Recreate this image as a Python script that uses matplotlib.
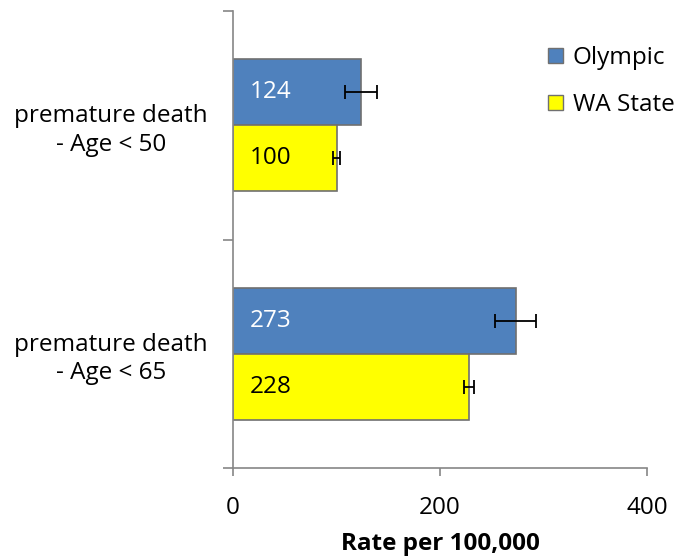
import matplotlib
matplotlib.use("Agg")
import matplotlib.pyplot as plt
import numpy as np
from matplotlib.patches import Patch

categories = ["premature death\n- Age < 50", "premature death\n- Age < 65"]
series_names = ["Olympic", "WA State"]
olympic = [124, 273]
wa_state = [100, 228]
olympic_err = [15.5, 19.5]
wa_err = [3, 4.5]
xticks = [0, 200, 400]
xlabel = "Rate per 100,000"

plt.rcParams['font.family'] = ['Open Sans', 'DejaVu Sans']
FS = 17.5

fig = plt.figure(figsize=(6.8, 5.59), dpi=100)
ax = fig.add_axes([233/680, 1-468/559, (647-233)/680, (468-11)/559])

y = np.arange(len(categories))
h = 0.289
edge = '#707070'
ekw = dict(ecolor='black', capsize=4.7, elinewidth=1.3, capthick=1.3)
ax.barh(y - h/2, olympic, height=h, color='#4F81BD', edgecolor=edge, linewidth=1.2,
        xerr=olympic_err, error_kw=ekw)
ax.barh(y + h/2, wa_state, height=h, color='#FFFF00', edgecolor=edge, linewidth=1.2,
        xerr=wa_err, error_kw=ekw)

for i in range(len(categories)):
    ax.text(16, y[i] - h/2, str(olympic[i]), color='white', fontsize=FS, va='center', ha='left')
    ax.text(16, y[i] + h/2, str(wa_state[i]), color='black', fontsize=FS, va='center', ha='left')

ax.set_xlim(0, 400)
ax.set_ylim(1.5, -0.5)
ax.set_xticks(xticks)
ax.set_xticklabels([str(t) for t in xticks], fontsize=FS)
ax.set_yticks([-0.5, 0.5, 1.5])
ax.set_yticklabels([])
ax.set_yticks(y, minor=True)
ax.set_yticklabels(categories, minor=True, fontsize=FS, multialignment='center', linespacing=1.25)
ax.tick_params(axis='y', which='minor', length=0, pad=18)
ax.tick_params(axis='y', which='major', length=7, width=1.2, color='#868686', direction='out')
ax.tick_params(axis='x', which='major', length=6, width=1.2, color='#868686', direction='out', pad=14)
for s in ['top', 'right']:
    ax.spines[s].set_visible(False)
for s in ['left', 'bottom']:
    ax.spines[s].set_color('#868686')
    ax.spines[s].set_linewidth(1.2)
ax.set_xlabel(xlabel, fontsize=FS, fontweight='bold', labelpad=9)

handles = [Patch(facecolor='#4F81BD', edgecolor=edge), Patch(facecolor='#FFFF00', edgecolor=edge)]
fig.legend(handles, series_names, loc='upper left', bbox_to_anchor=(548/680, 1-46/559),
           frameon=False, fontsize=FS, handlelength=0.62, handleheight=0.62,
           handletextpad=0.4, labelspacing=0.95, borderpad=0, borderaxespad=0)

fig.savefig("out.png", dpi=100)
